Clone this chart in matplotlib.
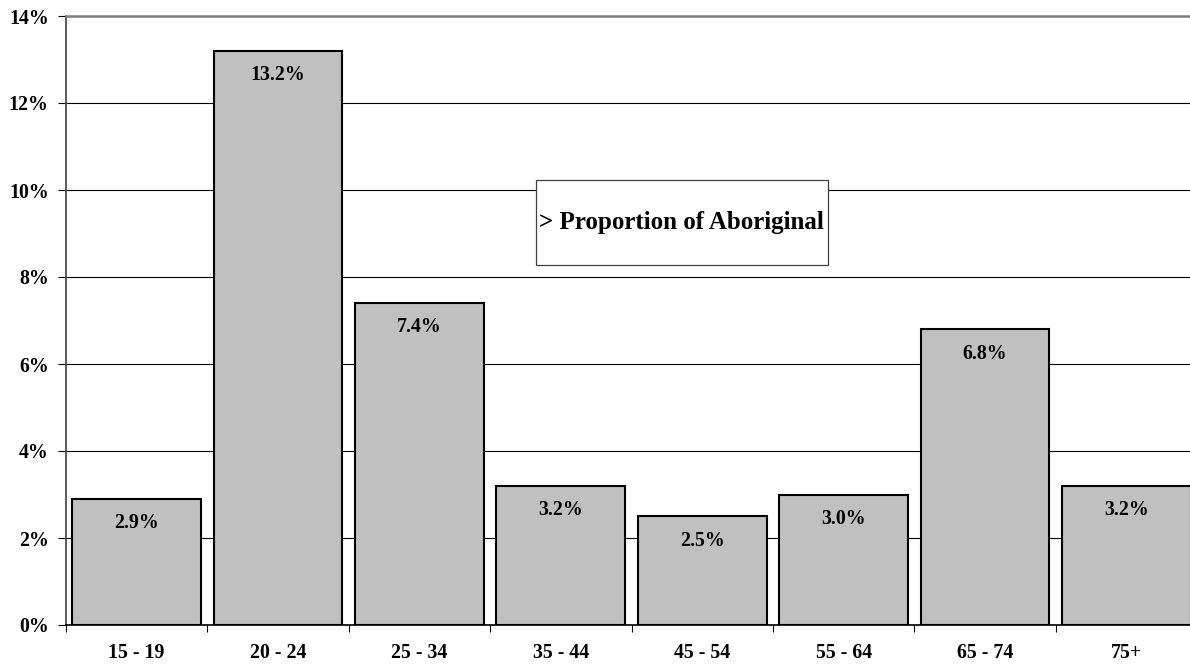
import matplotlib
matplotlib.use("Agg")
import matplotlib.pyplot as plt
from matplotlib.patches import Rectangle
import numpy as np

age_groups = ["15 - 19", "20 - 24", "25 - 34", "35 - 44", "45 - 54", "55 - 64", "65 - 74", "75+"]
proportion = [2.9, 13.2, 7.4, 3.2, 2.5, 3.0, 6.8, 3.2]
y_ticks = [0, 2, 4, 6, 8, 10, 12, 14]
box_text = "> Proportion of Aboriginal"

plt.rcParams["font.family"] = ["Liberation Serif", "DejaVu Serif"]
plt.rcParams["font.weight"] = "bold"

fig = plt.figure(figsize=(11.9, 6.66), dpi=100)
ax = fig.add_axes([66 / 1190, 41 / 666, 1131 / 1190, 609 / 666])

x = np.arange(len(age_groups))
bars = ax.bar(x, proportion, width=0.91, color="#C0C0C0", edgecolor="black",
              linewidth=1.5, zorder=3)

for xi, v in zip(x, proportion):
    ax.annotate(f"{v:.1f}%", xy=(xi, v), xytext=(0, -17.5), textcoords="offset points",
                ha="center", va="center", fontsize=14.3, fontweight="bold", zorder=4)

ax.set_xlim(-0.5, len(age_groups) - 0.5)
ax.set_ylim(0, 14)
ax.set_yticks(y_ticks)
ax.set_yticklabels([f"{t}%" for t in y_ticks], fontsize=14.3, fontweight="bold")
ax.yaxis.grid(True, color="black", linewidth=0.8, zorder=0)
ax.set_axisbelow(True)

# category labels sit between boundary ticks
ax.set_xticks(np.arange(-0.5, len(age_groups), 1.0))
ax.set_xticklabels([])
ax.set_xticks(x, minor=True)
ax.set_xticklabels(age_groups, minor=True, fontsize=14.3, fontweight="bold")
ax.tick_params(axis="x", which="minor", length=0, pad=13)
ax.tick_params(axis="x", which="major", length=5, width=0.8, direction="out")
ax.tick_params(axis="y", length=6, width=0.8, direction="out", pad=6.5)

ax.spines["right"].set_visible(False)
ax.spines["top"].set_color("#808080")
ax.spines["top"].set_linewidth(1.8)
ax.spines["left"].set_color("#404040")
ax.spines["left"].set_linewidth(1.2)
ax.spines["bottom"].set_color("black")
ax.spines["bottom"].set_linewidth(1.2)

box_x0, box_y0, box_w, box_h = 2.824, 8.28, 2.065, 1.95
box = Rectangle((box_x0, box_y0), box_w, box_h, facecolor="white", edgecolor="#404040",
                linewidth=0.9, zorder=5)
ax.add_patch(box)
ax.text(box_x0 + box_w / 2, box_y0 + box_h / 2, box_text, ha="center", va="center",
        fontsize=18, fontweight="bold", zorder=6)

fig.savefig("out.png", dpi=100)
